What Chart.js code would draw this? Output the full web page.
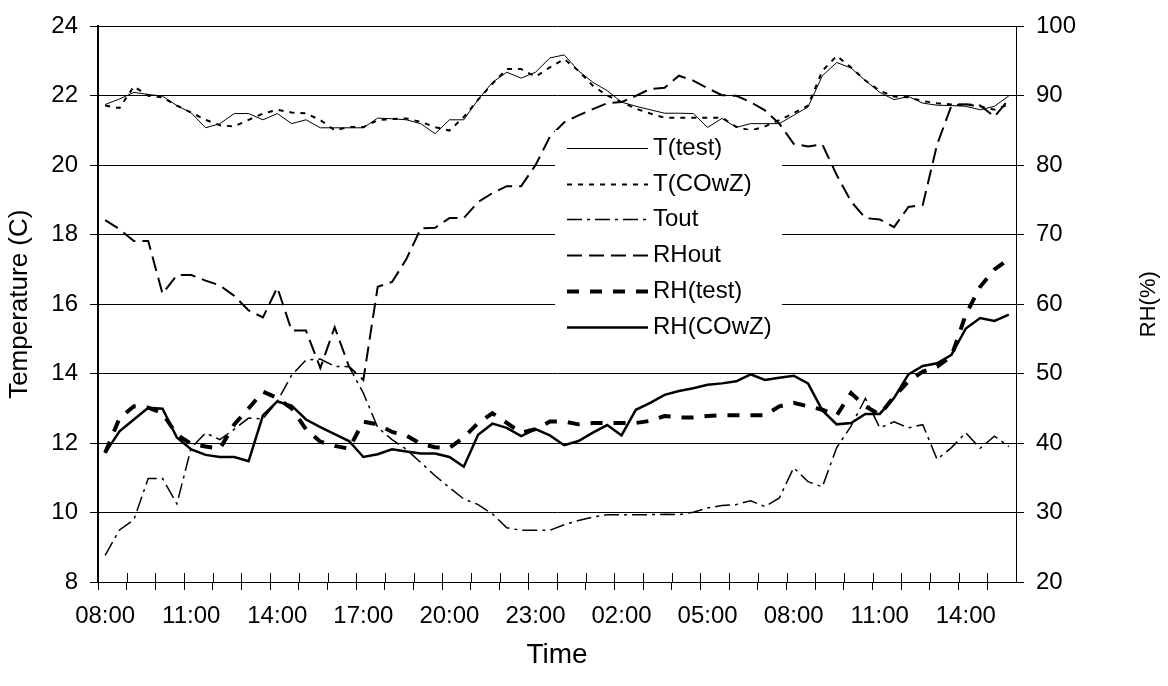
<!DOCTYPE html>
<html>
<head>
<meta charset="utf-8">
<script src="https://cdn.jsdelivr.net/npm/chart.js@4/dist/chart.umd.min.js"></script>
<style>
  html, body { margin: 0; padding: 0; background: #fff; }
  #wrap { width: 1168px; height: 686px; }
</style>
</head>
<body>
<div id="wrap"><canvas id="c" width="1168" height="686"></canvas></div>
<script>
// ---- data (every 30 minutes, 08:00 day 1 to 15:30 day 2) ----
const times = [
  "08:00","08:30","09:00","09:30","10:00","10:30","11:00","11:30","12:00","12:30",
  "13:00","13:30","14:00","14:30","15:00","15:30","16:00","16:30","17:00","17:30",
  "18:00","18:30","19:00","19:30","20:00","20:30","21:00","21:30","22:00","22:30",
  "23:00","23:30","00:00","00:30","01:00","01:30","02:00","02:30","03:00","03:30",
  "04:00","04:30","05:00","05:30","06:00","06:30","07:00","07:30","08:00","08:30",
  "09:00","09:30","10:00","10:30","11:00","11:30","12:00","12:30","13:00","13:30",
  "14:00","14:30","15:00","15:30"
];
const tTest = [
  21.75,21.91,22.10,22.04,21.99,21.72,21.51,21.08,21.20,21.49,
  21.49,21.31,21.49,21.20,21.31,21.08,21.08,21.08,21.08,21.36,
  21.34,21.31,21.20,20.91,21.31,21.31,21.89,22.39,22.68,22.51,
  22.68,23.09,23.18,22.72,22.39,22.15,21.82,21.70,21.60,21.50,
  21.50,21.49,21.09,21.35,21.09,21.20,21.20,21.20,21.44,21.68,
  22.58,22.96,22.80,22.44,22.10,21.89,21.98,21.79,21.73,21.72,
  21.70,21.60,21.70,22.00
];
const tCOwZ = [
  21.72,21.65,22.27,22.00,21.96,21.72,21.52,21.31,21.15,21.12,
  21.31,21.49,21.60,21.52,21.50,21.30,21.01,21.10,21.10,21.30,
  21.33,21.35,21.25,21.10,21.00,21.39,21.89,22.35,22.77,22.77,
  22.55,22.82,23.06,22.72,22.29,22.01,21.82,21.63,21.49,21.37,
  21.37,21.37,21.37,21.37,21.11,21.00,21.12,21.30,21.50,21.72,
  22.72,23.15,22.82,22.44,22.15,21.98,21.96,21.85,21.79,21.75,
  21.75,21.70,21.60,21.75
];
const tOut = [
  8.77,9.50,9.79,10.98,10.98,10.25,11.87,12.29,12.10,12.40,
  12.72,12.70,13.20,13.96,14.39,14.42,14.21,14.20,13.44,12.45,
  12.10,11.82,11.44,11.06,10.72,10.39,10.23,9.96,9.56,9.49,
  9.49,9.49,9.65,9.77,9.87,9.94,9.94,9.94,9.94,9.95,
  9.94,10.01,10.13,10.20,10.23,10.34,10.17,10.42,11.29,10.89,
  10.74,11.87,12.49,13.29,12.44,12.61,12.44,12.53,11.53,11.87,
  12.30,11.85,12.20,11.90
];
const rhOut = [
  72.1,70.8,69.1,69.1,61.5,64.2,64.2,63.4,62.7,61.2,
  59.1,58.1,62.4,56.2,56.2,50.8,56.7,51.0,49.1,62.5,
  63.2,66.5,70.9,71.0,72.4,72.4,74.7,76.0,77.0,77.0,
  80.0,84.1,86.2,87.2,88.1,88.95,89.1,90.0,91.0,91.15,
  92.9,92.2,91.1,90.1,90.0,89.1,87.9,86.0,83.1,82.7,
  83.0,78.6,74.8,72.4,72.2,71.1,74.0,74.3,83.0,88.6,
  88.8,88.6,87.0,89.5
];
const rhTest = [
  38.6,43.6,45.3,45.1,44.3,41.2,39.9,39.5,39.2,42.7,
  45.0,47.4,46.5,45.0,42.0,40.2,39.6,39.2,43.1,42.7,
  41.6,41.1,39.9,39.4,39.3,40.8,42.9,44.3,42.9,41.5,
  42.0,43.1,43.1,42.7,42.9,42.9,42.9,42.9,43.2,43.9,
  43.7,43.7,43.9,44.0,44.0,44.0,44.0,45.3,45.8,45.3,
  44.8,44.0,47.2,45.3,44.1,46.7,48.9,50.3,51.0,52.5,
  58.5,62.5,65.0,66.5
];
const rhCOwZ = [
  38.6,41.7,43.4,45.1,44.95,40.8,39.1,38.3,38.0,38.0,
  37.4,44.0,46.0,45.4,43.4,42.3,41.3,40.3,38.0,38.4,
  39.1,38.8,38.5,38.5,38.0,36.6,41.2,42.8,42.2,41.0,
  42.0,41.1,39.7,40.3,41.5,42.6,41.1,44.8,45.8,46.95,
  47.5,47.9,48.4,48.6,48.9,49.9,49.1,49.4,49.7,48.6,
  44.7,42.7,42.9,44.2,44.2,46.5,49.9,51.1,51.5,52.7,
  56.5,58.0,57.6,58.5
];
const seriesNames = ["T(test)","T(COwZ)","Tout","RHout","RH(test)","RH(COwZ)"];

// ---- layout constants (not data) ----
const W = 1168, H = 686;
const PLOT_L = 98, PLOT_R = 1016, PLOT_T = 22, PLOT_B = 582;
const FONT = "'Liberation Sans', Arial, Helvetica, sans-serif";
Chart.defaults.font.family = FONT;
Chart.defaults.color = '#000';

const styles = [
  { borderWidth: 1,   borderDash: [] },
  { borderWidth: 2,   borderDash: [5, 6] },
  { borderWidth: 1.5, borderDash: [15, 5, 3, 5] },
  { borderWidth: 2,   borderDash: [15, 7] },
  { borderWidth: 4,   borderDash: [12, 11] },
  { borderWidth: 2.5, borderDash: [] }
];
const seriesData = [tTest, tCOwZ, tOut, rhOut, rhTest, rhCOwZ];
const axisOf = ['y', 'y', 'y', 'y1', 'y1', 'y1'];

const datasets = seriesNames.map((name, i) => ({
  label: name,
  data: seriesData[i],
  yAxisID: axisOf[i],
  borderColor: '#000',
  backgroundColor: '#000',
  borderWidth: styles[i].borderWidth,
  borderDash: styles[i].borderDash,
  pointRadius: 0,
  tension: 0,
  fill: false,
  order: 6 - i
}));

// legend drawn inside the plot on a white box
const insideLegend = {
  id: 'insideLegend',
  afterDatasetsDraw(chart) {
    const ctx = chart.ctx;
    const boxL = 555, boxT = 130, boxR = 782, boxB = 345;
    ctx.save();
    ctx.fillStyle = '#fff';
    ctx.fillRect(boxL, boxT, boxR - boxL, boxB - boxT);
    const lineX0 = 567, lineX1 = 648, textX = 653, y0 = 148, dy = 35.7;
    chart.data.datasets.forEach((ds, i) => {
      const y = Math.round(y0 + dy * i) + 0.5;
      ctx.beginPath();
      ctx.setLineDash(ds.borderDash || []);
      ctx.lineWidth = ds.borderWidth;
      ctx.strokeStyle = ds.borderColor;
      ctx.moveTo(lineX0, y);
      ctx.lineTo(lineX1, y);
      ctx.stroke();
      ctx.setLineDash([]);
      ctx.fillStyle = '#000';
      ctx.font = '24px ' + FONT;
      ctx.textBaseline = 'middle';
      ctx.textAlign = 'left';
      ctx.fillText(ds.label, textX, y);
    });
    ctx.restore();
  }
};

// upward half of crossing tick marks on the category axis + right axis title (reads bottom-to-top)
const extras = {
  id: 'extras',
  afterDraw(chart) {
    const xs = chart.scales.x;
    const ctx = chart.ctx;
    ctx.save();
    ctx.strokeStyle = '#000';
    ctx.lineWidth = 1;
    ctx.beginPath();
    for (let k = 0; k <= times.length; k += 2) {
      const px = Math.round(xs.getPixelForValue(k - 0.5)) + 0.5;
      ctx.moveTo(px, xs.top - 9);
      ctx.lineTo(px, xs.top);
    }
    ctx.stroke();
    const ca = chart.chartArea;
    ctx.translate(W - 19, (ca.top + ca.bottom) / 2);
    ctx.rotate(-Math.PI / 2);
    ctx.font = '22px ' + FONT;
    ctx.fillStyle = '#000';
    ctx.textAlign = 'center';
    ctx.textBaseline = 'middle';
    ctx.fillText('RH(%)', 0, 0);
    ctx.restore();
  }
};

new Chart(document.getElementById('c'), {
  type: 'line',
  data: { labels: times, datasets },
  options: {
    responsive: false,
    animation: false,
    devicePixelRatio: 1,
    layout: { padding: { top: PLOT_T, left: 0, right: 0, bottom: 0 } },
    plugins: { legend: { display: false }, tooltip: { enabled: false } },
    scales: {
      x: {
        type: 'category',
        offset: true,
        afterFit(s) { s.height = H - PLOT_B; },
        border: { color: '#000', width: 1 },
        grid: {
          offset: true,
          drawOnChartArea: false,
          drawTicks: true,
          tickLength: 8,
          color: (c) => (c.index % 2 === 0 ? '#000' : 'rgba(0,0,0,0)')
        },
        ticks: {
          autoSkip: false,
          maxRotation: 0,
          minRotation: 0,
          padding: 12,
          font: { size: 24 },
          color: '#000',
          callback(value, index) { return index % 6 === 0 ? times[index] : ''; }
        },
        title: { display: true, text: 'Time', font: { size: 28 }, color: '#000', padding: { top: 0, bottom: 14 } }
      },
      y: {
        type: 'linear',
        position: 'left',
        min: 8, max: 24,
        afterFit(s) { s.width = PLOT_L; },
        border: { color: '#000', width: 2 },
        grid: { color: '#000', lineWidth: 1, tickLength: 8 },
        ticks: { stepSize: 2, padding: 12, font: { size: 24 }, color: '#000' },
        title: { display: true, text: 'Temperature (C)', font: { size: 26 }, color: '#000', padding: { top: 4, bottom: 0 } }
      },
      y1: {
        type: 'linear',
        position: 'right',
        min: 20, max: 100,
        afterFit(s) { s.width = W - PLOT_R; },
        border: { color: '#000', width: 1 },
        grid: { drawOnChartArea: false, color: '#000', tickLength: 8 },
        ticks: { stepSize: 10, padding: 12, font: { size: 24 }, color: '#000' },
        title: { display: false, text: 'RH(%)' }
      }
    }
  },
  plugins: [insideLegend, extras]
});
</script>
</body>
</html>
